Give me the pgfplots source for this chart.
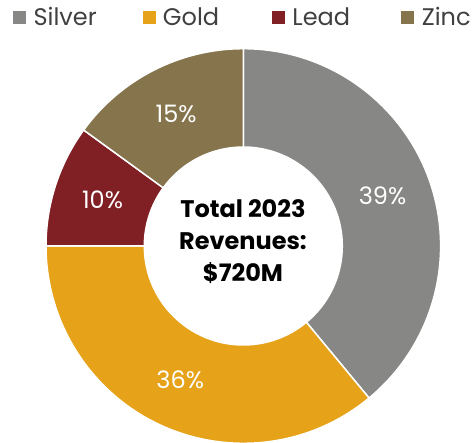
\documentclass[border=0pt]{standalone}
\usepackage{fontspec}
\setmainfont{Poppins}
\usepackage{pgfplots}
\usepackage{pgfplotstable}
\pgfplotsset{compat=1.18}
\definecolor{silvercol}{RGB}{135,135,133}
\definecolor{goldcol}{RGB}{230,162,24}
\definecolor{leadcol}{RGB}{128,31,36}
\definecolor{zinccol}{RGB}{133,116,76}
\definecolor{legtext}{RGB}{64,64,64}
\pgfplotstableread{
metal value color
Silver 39 silvercol
Gold 36 goldcol
Lead 10 leadcol
Zinc 15 zinccol
}\revtable
\begin{document}
\begin{tikzpicture}
\begin{axis}[
  hide axis, scale only axis,
  width=473bp, height=443bp,
  xmin=0, xmax=473, ymin=0, ymax=443,
  legend columns=4,
  legend image code/.code={\fill[#1] (0bp,-6bp) rectangle (12bp,6bp);},
  legend style={at={(axis cs:13,426)}, anchor=west, draw=none, fill=none,
    inner sep=0pt, column sep=8bp, text=legtext,
    font=\fontsize{24bp}{28bp}\selectfont,
    nodes={inner sep=0pt, text width=101bp, align=left}},
]
\addlegendimage{silvercol}
\addlegendimage{goldcol}
\addlegendimage{leadcol}
\addlegendimage{zinccol}
\legend{Silver,Gold,Lead,Zinc}
\def\cx{243.3}\def\cy{197}
\def\start{90}
\pgfplotsforeachungrouped \i in {0,1,2,3}{%
  \pgfplotstablegetelem{\i}{value}\of\revtable \let\v\pgfplotsretval
  \pgfplotstablegetelem{\i}{color}\of\revtable \let\c\pgfplotsretval
  \pgfmathsetmacro\endang{\start-3.6*\v}%
  \pgfmathsetmacro\midang{(\start+\endang)/2}%
  \edef\tmp{%
    \noexpand\fill[\c, draw=white, line width=1.5bp]
      ([shift={(\start:197.3bp)}]axis cs:\cx,\cy)
      arc[start angle=\start, end angle=\endang, radius=197.3bp]
      -- ([shift={(\endang:99bp)}]axis cs:\cx,\cy)
      arc[start angle=\endang, end angle=\start, radius=99bp] -- cycle;
    \noexpand\node[text=white, font=\noexpand\fontsize{24bp}{28bp}\noexpand\selectfont, inner sep=0pt]
      at ([shift={(\midang:148bp)}]axis cs:\cx,\cy) {\v\noexpand\%};
  }\tmp
  \let\start\endang
}
\node[align=center, font=\fontsize{24bp}{32bp}\selectfont\bfseries, text=black]
  at (axis cs:243,201) {Total 2023\\Revenues:\\\$720M};
\end{axis}
\pgfresetboundingbox
\useasboundingbox (current axis.south west) rectangle (current axis.north east);
\end{tikzpicture}
\end{document}
